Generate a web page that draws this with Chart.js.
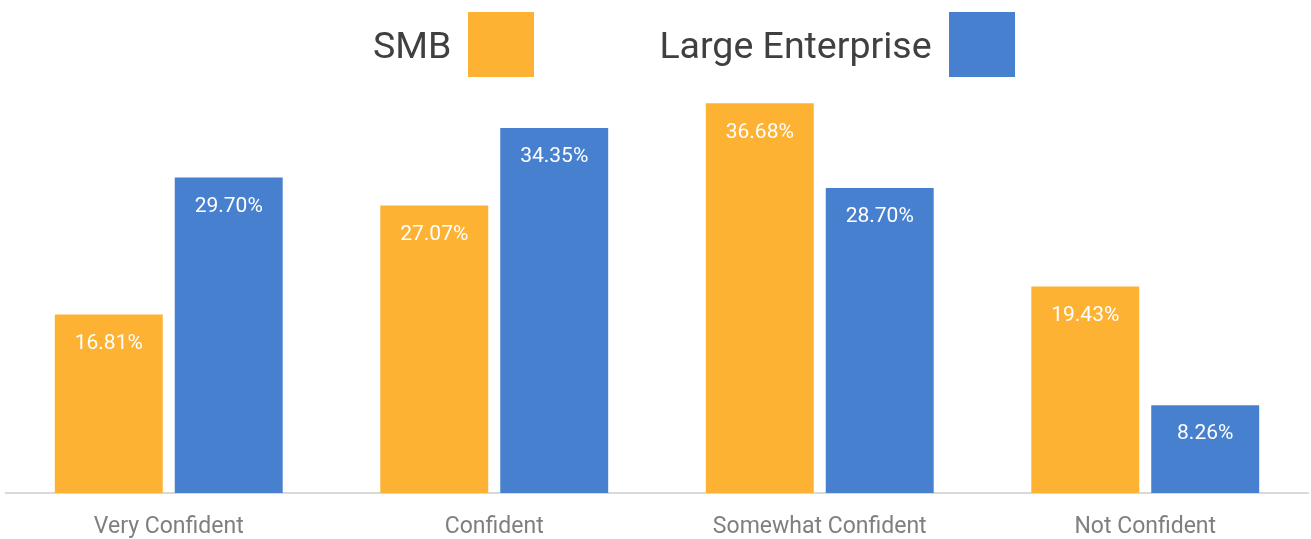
<!DOCTYPE html>
<html>
<head>
<meta charset="utf-8">
<script src="https://cdn.jsdelivr.net/npm/chart.js@4.4.1/dist/chart.umd.min.js"></script>
<style>
    html, body { margin: 0; padding: 0; background: #fff; }
    #wrap { position: relative; width: 1311px; height: 539px; }
    #legend {
        position: absolute; top: 12px; left: 373px;
        display: flex; align-items: center;
        font-family: Roboto, sans-serif; font-size: 37.5px; color: #404040;
    }
    #legend .item { display: flex; align-items: center; margin-right: 125px; }
    #legend .box { width: 66px; height: 65px; margin-left: 17px; }
</style>
</head>
<body>
<div id="wrap">
    <canvas id="chart" width="1311" height="539"></canvas>
    <div id="legend"></div>
</div>
<script>
// --- Data ---
const categories = ['Very Confident', 'Confident', 'Somewhat Confident', 'Not Confident'];
const seriesNames = ['SMB', 'Large Enterprise'];
const smbValues = [16.81, 27.07, 36.68, 19.43];
const largeValues = [29.70, 34.35, 28.70, 8.26];
const yMax = 40;

const SMB_COLOR = '#FDB234';
const LARGE_COLOR = '#4880D0';

// Value labels drawn inside the top of every bar
const barValueLabels = {
    id: 'barValueLabels',
    afterDatasetsDraw(chart) {
        const ctx = chart.ctx;
        ctx.save();
        ctx.font = '21px Roboto, sans-serif';
        ctx.fillStyle = '#ffffff';
        ctx.textAlign = 'center';
        ctx.textBaseline = 'middle';
        chart.data.datasets.forEach((ds, i) => {
            chart.getDatasetMeta(i).data.forEach((bar, j) => {
                ctx.fillText(ds.data[j].toFixed(2) + '%', bar.x, bar.y + 29);
            });
        });
        ctx.restore();
    }
};

// HTML legend: label text first, colour box after it
const htmlLegend = {
    id: 'htmlLegend',
    afterUpdate(chart) {
        const el = document.getElementById('legend');
        el.innerHTML = '';
        chart.data.datasets.forEach(ds => {
            const item = document.createElement('div');
            item.className = 'item';
            const txt = document.createElement('span');
            txt.textContent = ds.label;
            const box = document.createElement('span');
            box.className = 'box';
            box.style.background = ds.backgroundColor;
            item.appendChild(txt);
            item.appendChild(box);
            el.appendChild(item);
        });
    }
};

new Chart(document.getElementById('chart'), {
    type: 'bar',
    data: {
        labels: categories,
        datasets: [
            { label: seriesNames[0], data: smbValues, backgroundColor: SMB_COLOR },
            { label: seriesNames[1], data: largeValues, backgroundColor: LARGE_COLOR }
        ]
    },
    options: {
        responsive: false,
        devicePixelRatio: 1,
        animation: false,
        categoryPercentage: 0.737,
        barPercentage: 0.9,
        layout: { padding: { top: 68, left: 6, right: 3, bottom: 0 } },
        plugins: {
            legend: { display: false },
            tooltip: { enabled: false }
        },
        scales: {
            x: {
                grid: { display: false },
                border: { display: true, color: '#D9D9D9', width: 2 },
                ticks: {
                    color: '#7F7F7F',
                    font: { family: 'Roboto, sans-serif', size: 23 },
                    padding: 12,
                    maxRotation: 0
                },
                afterFit(scale) { scale.height = 46; }
            },
            y: {
                display: false,
                min: 0,
                max: yMax
            }
        }
    },
    plugins: [barValueLabels, htmlLegend]
});
</script>
</body>
</html>
